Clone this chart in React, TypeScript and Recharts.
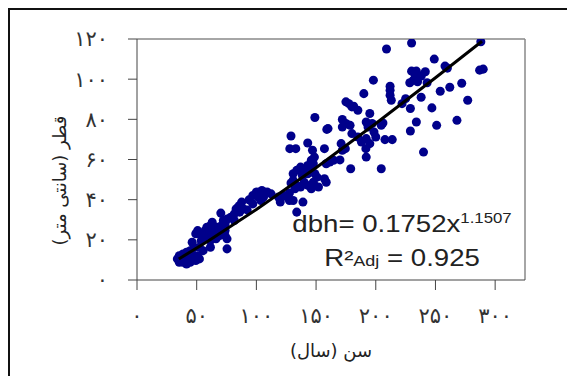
import {
  ScatterChart,
  Scatter,
  XAxis,
  YAxis,
  ReferenceLine,
  ReferenceDot,
  Label,
} from "recharts";

// tree age (years) and diameter at breast height (cm)
const ages = [
  209, 230, 288, 249, 258, 260, 230, 234, 241.5, 233, 238, 231.5, 228.5, 235, 243,
  287, 290, 198, 272, 262, 254, 212, 212, 212, 213, 225, 222, 238, 277, 190,
  175, 180, 185, 181.5, 177.5, 195, 229, 247, 192, 197, 193.5, 204.6, 206, 268,
  251, 234, 229, 172, 175, 172, 178.5, 149, 160, 198.5, 200, 207.7, 213.8, 192,
  180, 185, 188, 195, 191.7, 192, 204.6, 240, 179, 129, 128, 133, 143, 147,
  148.6, 171, 172, 174.5, 157, 158.5, 161.5, 164.6, 147.7, 144.6, 146, 143,
  130.8, 133.8, 137, 140, 138.5, 143, 149, 150.8, 157, 158.5, 140, 143, 147.7,
  137, 133.8, 130.8, 146, 152, 129, 132.3, 127.7, 126, 127.7, 120, 123, 130.8,
  139, 133.8, 112.3, 118.5, 109, 106, 100, 104.6, 97, 101.5, 103.7, 93.8, 97,
  87.7, 86, 84.6, 89.2, 83, 92.3, 86, 81.5, 78.5, 75.4, 81.5, 72.3, 73.8, 70.8,
  67.7, 69.2, 64.6, 73.8, 70.2, 63, 61.5, 58.5, 57, 60, 55.4, 52.3, 57, 53.8,
  61.5, 63, 66.2, 69.2, 73.8, 75.4, 75.4, 61.5, 50.8, 49.2, 46.2, 47.7, 44.6,
  41.5, 38.5, 43, 46.2, 50.8, 52.3, 49.2, 44.6, 40, 35.4, 33.8, 36.9, 35.4,
  41.5, 38.5, 52.3, 55.4, 159, 170,
];
const diameters = [
  115, 118, 118.6, 110, 106.5, 105.5, 104, 104, 103.7, 102, 101.5, 99.5, 98.2, 98.7, 98.2,
  104.5, 105, 99.5, 98, 96, 94, 96.5, 94.5, 92, 89.5, 90.3, 87.8, 91, 89.5, 92.8,
  88.7, 86.2, 84.5, 86.5, 87.8, 82.9, 85.4, 85.7, 78.7, 77.9, 76.2, 77, 78.2, 79.5,
  77, 78.7, 74.2, 79.9, 77.9, 76.2, 77, 80.9, 75.4, 73.7, 71.2, 69.9, 69.9, 70.4,
  72.9, 71.2, 68.7, 67.9, 65.4, 61.2, 55.4, 63.7, 55.4, 71.7, 65.4, 65.4, 68.2, 64.6,
  61.2, 67.9, 64.6, 65.4, 65.4, 57.9, 58.7, 59.6, 57.9, 56.2, 59.6, 57,
  52.9, 54.6, 56.2, 54.6, 52, 52.9, 52.9, 51.2, 50.4, 48.7, 48.7, 47.1, 48.7,
  46.3, 47.1, 49.6, 45.4, 46.3, 48.3, 45.4, 43.3, 41.3, 39.6, 38.8, 42.1, 39.6,
  38.8, 33.8, 42.9, 41.3, 43.8, 41.3, 43.8, 44.6, 42.1, 41.3, 39.6, 39.9, 37.9,
  38.8, 37.1, 36.3, 35.4, 35.4, 34.9, 33.8, 32.9, 31.3, 30.4, 29.6, 29.6, 28, 27.1,
  26.3, 24.6, 24.6, 24.6, 33.3, 28.8, 27.1, 26.3, 24.6, 23, 22.1, 23, 20.5, 19.6,
  19.6, 21.3, 20.5, 22.1, 22.1, 20.5, 15.5, 16.3, 24.6, 23, 18.8, 16.3, 14.6,
  13.8, 13, 12.1, 13, 12.1, 10.5, 9.7, 8.8, 11.3, 12.1, 10.5, 9.7, 8.8,
  8, 8.8, 16.3, 14.6, 75, 59.8,
];

// fitted curve dbh = 0.1752 x^1.1507, points along the drawn line
const fitAges = [35, 60, 100, 150, 200, 250, 289];
const fitDiameters = [10.5, 19.5, 35.1, 55.9, 77.9, 100.7, 118.9];

const xTicks = [0, 50, 100, 150, 200, 250, 300];
const xTickLabels = ["۰", "۵۰", "۱۰۰", "۱۵۰", "۲۰۰", "۲۵۰", "۳۰۰"];
const yTicks = [0, 20, 40, 60, 80, 100, 120];
const yTickLabels = ["۰", "۲۰", "۴۰", "۶۰", "۸۰", "۱۰۰", "۱۲۰"];

const xTitle = "سن (سال)";
const yTitle = "قطر (سانتی متر)";

const points = ages.map((age, i) => ({ age, dbh: diameters[i] }));
const fitLine = fitAges.map((age, i) => ({ age, dbh: fitDiameters[i] }));

const tickStyle = {
  fill: "#333",
  fontSize: 21,
  fontFamily: "DejaVu Sans",
  letterSpacing: 2,
};

function Equation(props: any) {
  const { cx, cy } = props;
  return (
    <g
      transform={`translate(${cx},${cy}) scale(1.2,1)`}
      fontFamily="Liberation Sans, Arial, sans-serif"
      fill="#222"
    >
      <text x={0} y={0} textAnchor="middle" fontSize={23}>
        dbh= 0.1752x
        <tspan fontSize={14} dy={-9}>
          1.1507
        </tspan>
      </text>
      <text x={0} y={34} textAnchor="middle" fontSize={23}>
        R²
        <tspan fontSize={15}>Adj</tspan> = 0.925
      </text>
    </g>
  );
}

export default function App() {
  return (
    <div
      style={{
        borderTop: "2px solid #111",
        borderLeft: "2px solid #111",
        width: 565,
        height: 366,
        background: "#fff",
      }}
    >
      <ScatterChart
        width={565}
        height={366}
        margin={{ top: 29, right: 50, bottom: 0, left: 0 }}
      >
        <XAxis
          type="number"
          dataKey="age"
          domain={[0, 325]}
          ticks={xTicks}
          tickFormatter={(v: number) => xTickLabels[xTicks.indexOf(v)]}
          tick={tickStyle}
          tickSize={10}
          tickMargin={18}
          height={96}
          stroke="#444"
          allowDataOverflow
        >
          <Label
            content={({ viewBox }: any) => (
              <text
                x={viewBox.x + viewBox.width / 2}
                y={viewBox.y + 70}
                textAnchor="middle"
                dominantBaseline="central"
                direction="rtl"
                fontSize={18}
                fontFamily="DejaVu Sans"
                fill="#222"
              >
                {xTitle}
              </text>
            )}
          />
        </XAxis>
        <YAxis
          type="number"
          dataKey="dbh"
          domain={[0, 120]}
          ticks={yTicks}
          tickFormatter={(v: number) => yTickLabels[yTicks.indexOf(v)]}
          tick={tickStyle}
          tickSize={9}
          tickMargin={20}
          width={127}
          stroke="#444"
          allowDataOverflow
        >
          <Label
            content={({ viewBox }: any) => {
              const x = viewBox.x + 49;
              const y = viewBox.y + viewBox.height / 2 + 21;
              return (
                <text
                  x={x}
                  y={y}
                  transform={`rotate(-90, ${x}, ${y})`}
                  textAnchor="middle"
                  dominantBaseline="central"
                  direction="rtl"
                  fontSize={18}
                  fontFamily="DejaVu Sans"
                  fill="#222"
                >
                  {yTitle}
                </text>
              );
            }}
          />
        </YAxis>
        <ReferenceLine y={120} stroke="#888" strokeWidth={1.5} />
        <ReferenceLine x={325} stroke="#888" strokeWidth={1.5} />
        <Scatter data={points} fill="#00008b" isAnimationActive={false} />
        <Scatter
          data={fitLine}
          line={{ stroke: "#000", strokeWidth: 3 }}
          shape={() => null}
          isAnimationActive={false}
        />
        <ReferenceDot x={222} y={23.9} shape={(p: any) => <Equation {...p} />} />
      </ScatterChart>
    </div>
  );
}
